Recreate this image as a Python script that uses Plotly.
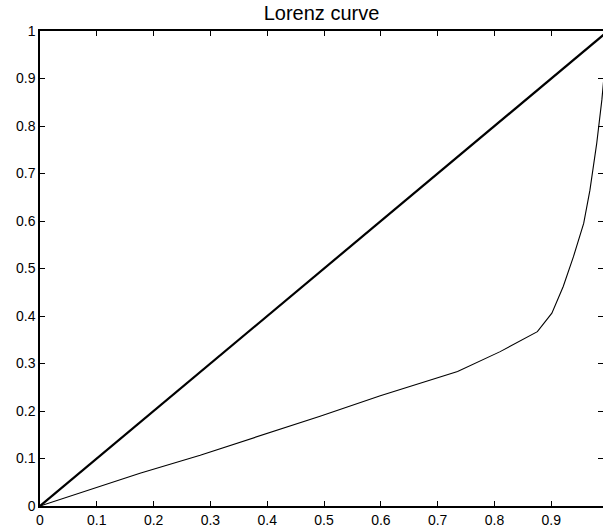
import plotly.graph_objects as go

# Lorenz curve data
pop_share = [0, 0.176, 0.282, 0.387, 0.493, 0.599, 0.704, 0.735, 0.81, 0.8755,
             0.901, 0.921, 0.939, 0.957, 0.968, 0.980, 0.989, 1.0]
income_share = [0, 0.069, 0.107, 0.147, 0.189, 0.232, 0.272, 0.283, 0.325, 0.367,
                0.406, 0.462, 0.525, 0.595, 0.665, 0.764, 0.855, 1.0]
equality_x = [0, 1]
equality_y = [0, 1]

x_ticks = [0, 0.1, 0.2, 0.3, 0.4, 0.5, 0.6, 0.7, 0.8, 0.9]
x_tick_labels = ["0", "0.1", "0.2", "0.3", "0.4", "0.5", "0.6", "0.7", "0.8", "0.9"]
y_ticks = [0, 0.1, 0.2, 0.3, 0.4, 0.5, 0.6, 0.7, 0.8, 0.9, 1]
y_tick_labels = ["0", "0.1", "0.2", "0.3", "0.4", "0.5", "0.6", "0.7", "0.8", "0.9", "1"]

XR = [0, 0.991]
YR = [0, 1]
FONT = "Liberation Sans, Arial, Helvetica, sans-serif"

fig = go.Figure()
fig.add_trace(go.Scatter(x=equality_x, y=equality_y, mode="lines",
                         line=dict(color="black", width=2.2), showlegend=False))
fig.add_trace(go.Scatter(x=pop_share, y=income_share, mode="lines",
                         line=dict(color="black", width=1.1), showlegend=False))
# invisible trace for mirrored tick axes
fig.add_trace(go.Scatter(x=[0], y=[0], xaxis="x2", yaxis="y2", mode="markers",
                         marker=dict(opacity=0), showlegend=False, hoverinfo="skip"))

common_tick = dict(ticks="inside", ticklen=5, tickwidth=1, tickcolor="black",
                   showgrid=False, zeroline=False)

fig.update_layout(
    width=603, height=527,
    margin=dict(l=40, r=0, t=31, b=21),
    paper_bgcolor="white", plot_bgcolor="white",
    font=dict(family=FONT, size=14, color="black"),
    title=dict(text="Lorenz curve", x=0.5, xref="paper", xanchor="center",
               y=1 - 13 / 527, yref="container", yanchor="middle",
               font=dict(family=FONT, size=20, color="black")),
    xaxis=dict(range=XR, tickvals=x_ticks, ticktext=x_tick_labels,
               showline=True, linecolor="black", linewidth=1.5, mirror=True,
               automargin=False, **common_tick),
    yaxis=dict(range=YR, tickvals=y_ticks, ticktext=y_tick_labels,
               showline=True, linecolor="black", linewidth=1.5, mirror=False,
               automargin=False, **common_tick),
    xaxis2=dict(range=XR, overlaying="x", side="top", anchor="y",
                tickvals=x_ticks, showticklabels=False, showline=False,
                automargin=False, **common_tick),
    yaxis2=dict(range=YR, overlaying="y", side="right", anchor="x",
                tickvals=y_ticks, showticklabels=False, showline=False,
                automargin=False, **common_tick),
)

fig.write_html("out.html",
               config={"displayModeBar": False},
               post_script="document.body.style.margin='0';"
                           "document.body.style.overflow='hidden';")
